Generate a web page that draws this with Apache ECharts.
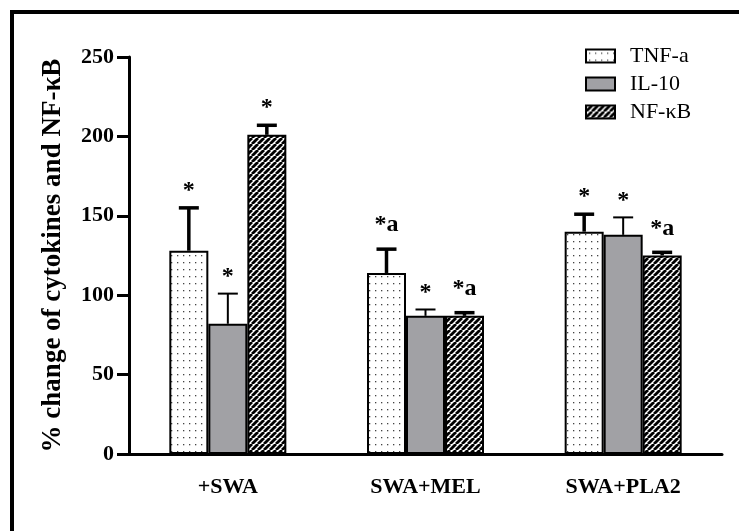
<!DOCTYPE html>
<html>
<head>
<meta charset="utf-8">
<script src="https://cdn.jsdelivr.net/npm/echarts@6/dist/echarts.min.js"></script>
<style>html,body{margin:0;padding:0;background:#fff}#c{width:739px;height:531px}</style>
</head>
<body>
<div id="c"></div>
<script>
// ---- data ----
const categories = ['+SWA', 'SWA+MEL', 'SWA+PLA2'];
const seriesNames = ['TNF-a', 'IL-10', 'NF-\u03BAB'];
const tnfValues = [128, 114, 140];
const tnfErrors = [27, 15, 11];
const il10Values = [82, 87, 138];
const il10Errors = [19, 4, 11];
const nfkbValues = [201, 87, 125];
const nfkbErrors = [6, 2, 2];
const tnfMarks = ['*', '*a', '*'];
const il10Marks = ['*', '*', '*'];
const nfkbMarks = ['*', '*a', '*a'];
const yTicks = [0, 50, 100, 150, 200, 250];

// ---- styling ----
const FONT = '"Liberation Serif", "Times New Roman", serif';
const BAR_W = 39;

function dotPattern() {
  const c = document.createElement('canvas');
  c.width = 6; c.height = 7;
  const g = c.getContext('2d');
  g.fillStyle = '#fff'; g.fillRect(0, 0, 6, 7);
  g.fillStyle = '#444'; g.fillRect(3, 3, 1.3, 1.3);
  return c;
}
function hatchPattern() {
  const s = 6;
  const c = document.createElement('canvas');
  c.width = s; c.height = s;
  const g = c.getContext('2d');
  g.fillStyle = '#fff'; g.fillRect(0, 0, s, s);
  g.strokeStyle = '#000'; g.lineWidth = 2.8;
  for (const k of [-s, 0, s]) {
    g.beginPath(); g.moveTo(k, s); g.lineTo(k + s, 0); g.stroke();
  }
  return c;
}
const fills = [
  { image: dotPattern(), repeat: 'repeat' },
  '#a1a1a5',
  { image: hatchPattern(), repeat: 'repeat' }
];
const valueSets = [tnfValues, il10Values, nfkbValues];
const errorSets = [tnfErrors, il10Errors, nfkbErrors];
const markSets = [tnfMarks, il10Marks, nfkbMarks];
const errWidths = [3.5, 2, 3.5];

const barSeries = seriesNames.map((name, s) => ({
  name, type: 'bar', barWidth: BAR_W, barGap: '0%',
  data: valueSets[s],
  itemStyle: { color: fills[s], borderColor: '#000', borderWidth: 2 },
  z: 2
}));

const errSeries = seriesNames.map((name, s) => ({
  name: name + ' err', type: 'custom', z: 3,
  data: valueSets[s].map((v, i) => [i, v, errorSets[s][i]]),
  renderItem(params, api) {
    const i = api.value(0), v = api.value(1), e = api.value(2);
    const base = api.coord([i, v]);
    const top = api.coord([i, v + e]);
    const x = base[0] + (s - 1) * BAR_W;
    const w = errWidths[s];
    const mark = markSets[s][params.dataIndex];
    const two = mark.length > 1;
    return {
      type: 'group',
      children: [
        { type: 'line', shape: { x1: x, y1: base[1], x2: x, y2: top[1] }, style: { stroke: '#000', lineWidth: w } },
        { type: 'line', shape: { x1: x - 10, y1: top[1], x2: x + 10, y2: top[1] }, style: { stroke: '#000', lineWidth: w } },
        { type: 'text', x: x, y: top[1] - (two ? 24 : 17),
          style: { text: mark, font: 'bold 24px ' + FONT, fill: '#000', align: 'center', verticalAlign: 'middle' } }
      ]
    };
  }
}));

const chart = echarts.init(document.getElementById('c'), null, { renderer: 'canvas' });
chart.setOption({
  animation: false,
  backgroundColor: '#fff',
  graphic: [{
    type: 'rect', shape: { x: 12, y: 12, width: 900, height: 700 },
    style: { fill: 'none', stroke: '#000', lineWidth: 4 }, silent: true
  }],
  grid: { left: 129, right: 17, top: 57, bottom: 77 },
  legend: {
    data: seriesNames, orient: 'vertical', left: 580, top: 40,
    itemWidth: 29, itemHeight: 13, itemGap: 6, icon: 'rect',
    itemStyle: { borderColor: '#000', borderWidth: 2 },
    textStyle: { fontFamily: FONT, fontSize: 22, color: '#000', padding: [0, 0, 0, 10] }
  },
  xAxis: {
    type: 'category', data: categories,
    axisLine: { lineStyle: { color: '#000', width: 3 } },
    axisTick: { alignWithLabel: true, length: 15, lineStyle: { color: '#000', width: 3 } },
    axisLabel: { fontFamily: FONT, fontWeight: 'bold', fontSize: 22, color: '#000', margin: 22 }
  },
  yAxis: {
    type: 'value', min: yTicks[0], max: yTicks[yTicks.length - 1], interval: 50,
    name: '% change of cytokines and NF-\u03BAB', nameLocation: 'middle', nameGap: 62,
    nameTextStyle: { fontFamily: FONT, fontWeight: 'bold', fontSize: 27, color: '#000' },
    axisLine: { show: true, lineStyle: { color: '#000', width: 3 } },
    axisTick: { show: true, length: 12, lineStyle: { color: '#000', width: 3 } },
    axisLabel: { fontFamily: FONT, fontWeight: 'bold', fontSize: 22, color: '#000', margin: 15 },
    splitLine: { show: false }
  },
  series: [...barSeries, ...errSeries]
});
</script>
</body>
</html>
